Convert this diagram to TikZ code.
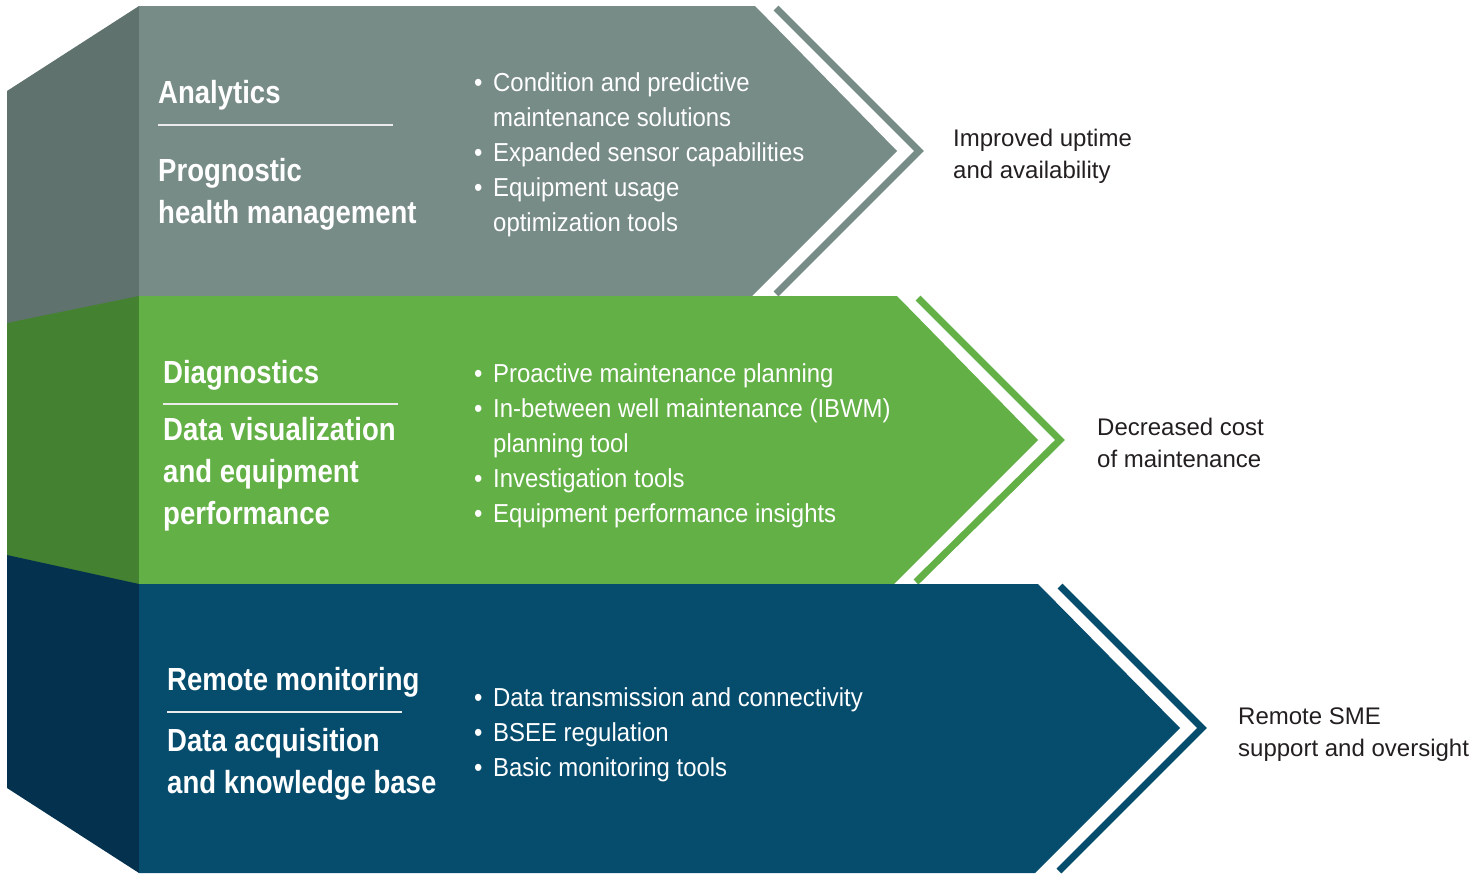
\documentclass[tikz,border=0pt]{standalone}
\usepackage{fontspec}
\setmainfont{Liberation Sans}
\newfontfamily\headfont{Liberation Sans}[FakeStretch=0.86]
\newfontfamily\itemfont{Liberation Sans}[FakeStretch=0.92]
\usetikzlibrary{positioning}
\definecolor{grayfront}{RGB}{119, 139, 135}
\definecolor{grayside}{RGB}{95, 114, 110}
\definecolor{greenfront}{RGB}{99, 176, 70}
\definecolor{greenside}{RGB}{68, 129, 48}
\definecolor{bluefront}{RGB}{5, 76, 109}
\definecolor{blueside}{RGB}{4, 50, 78}
\definecolor{resultgray}{RGB}{35, 31, 32}

\newcommand{\itm}{\makebox[19pt][l]{\textbullet}}
\newcommand{\cnt}{\hspace*{19pt}}

\begin{document}
\begin{tikzpicture}[
  x=1pt, y=-1pt,
  face/.style={fill=#1, draw=none},
  bar/.style={draw=#1, line width=7pt, line join=miter, miter limit=10},
  rule/.style={draw=white!92!black, line width=1.4pt},
  title/.style={
    anchor=base west, inner sep=0pt, text=white, align=left,
    font=\headfont\bfseries\fontsize{32}{42}\selectfont
  },
  items/.style={
    anchor=base west, inner sep=0pt, text=white, align=left,
    font=\itemfont\fontsize{26}{35}\selectfont
  },
  result/.style={
    anchor=base west, inner sep=0pt, text=resultgray, align=left,
    font=\fontsize{24}{32}\selectfont
  },
]

\useasboundingbox (0, 0) rectangle (1484, 876);

\def\xL{7}
\def\xF{139}

% Analytics band (top)
\fill[face=grayside] (\xL, 91) -- (\xF, 6) -- (\xF, 296.5) -- (\xL, 323.5) -- cycle;
\fill[face=grayfront] (\xF, 6) -- (755, 6) -- (897, 151) -- (752, 296) -- (\xF, 296) -- cycle;
\draw[bar=grayfront] (776, 8) -- (919, 151) -- (776, 294);

% Diagnostics band (middle)
\fill[face=greenside] (\xL, 323) -- (\xF, 296) -- (\xF, 584.5) -- (\xL, 555.5) -- cycle;
\fill[face=greenfront] (\xF, 296) -- (897, 296) -- (1038, 440) -- (894, 584) -- (\xF, 584) -- cycle;
\draw[bar=greenfront] (918, 298) -- (1060, 440) -- (916, 582);

% Remote monitoring band (bottom)
\fill[face=blueside] (\xL, 555) -- (\xF, 584) -- (\xF, 873) -- (\xL, 788) -- cycle;
\fill[face=bluefront] (\xF, 584) -- (1038, 584) -- (1180, 728) -- (1035, 873) -- (\xF, 873) -- cycle;
\draw[bar=bluefront] (1060, 586) -- (1202, 728) -- (1059, 871);

% Titles (base = last line)
\node[title] (anaT) at (158, 103) {Analytics};
\draw[rule] (158, 125) -- (393, 125);
\node[title] (prgT) at (158, 223) {Prognostic\\health management};

\node[title] (diaT) at (163, 383) {Diagnostics};
\draw[rule] (163, 404) -- (398, 404);
\node[title] (visT) at (163, 524) {Data visualization\\and equipment\\performance};

\node[title] (remT) at (167, 690) {Remote monitoring};
\draw[rule] (167, 712) -- (402, 712);
\node[title] (acqT) at (167, 793) {Data acquisition\\and knowledge base};

% Bullet lists
\node[items] (anaL) at (474, 231) {\itm Condition and predictive\\\cnt maintenance solutions\\\itm Expanded sensor capabilities\\\itm Equipment usage\\\cnt optimization tools};
\node[items] (diaL) at (474, 522) {\itm Proactive maintenance planning\\\itm In-between well maintenance (IBWM)\\\cnt planning tool\\\itm Investigation tools\\\itm Equipment performance insights};
\node[items] (remL) at (474, 776) {\itm Data transmission and connectivity\\\itm BSEE regulation\\\itm Basic monitoring tools};

% Results
\node[result] (anaR) at (953, 178) {Improved uptime\\and availability};
\node[result] (diaR) at (1097, 467) {Decreased cost\\of maintenance};
\node[result] (remR) at (1238, 756) {Remote SME\\support and oversight};

\end{tikzpicture}
\end{document}
